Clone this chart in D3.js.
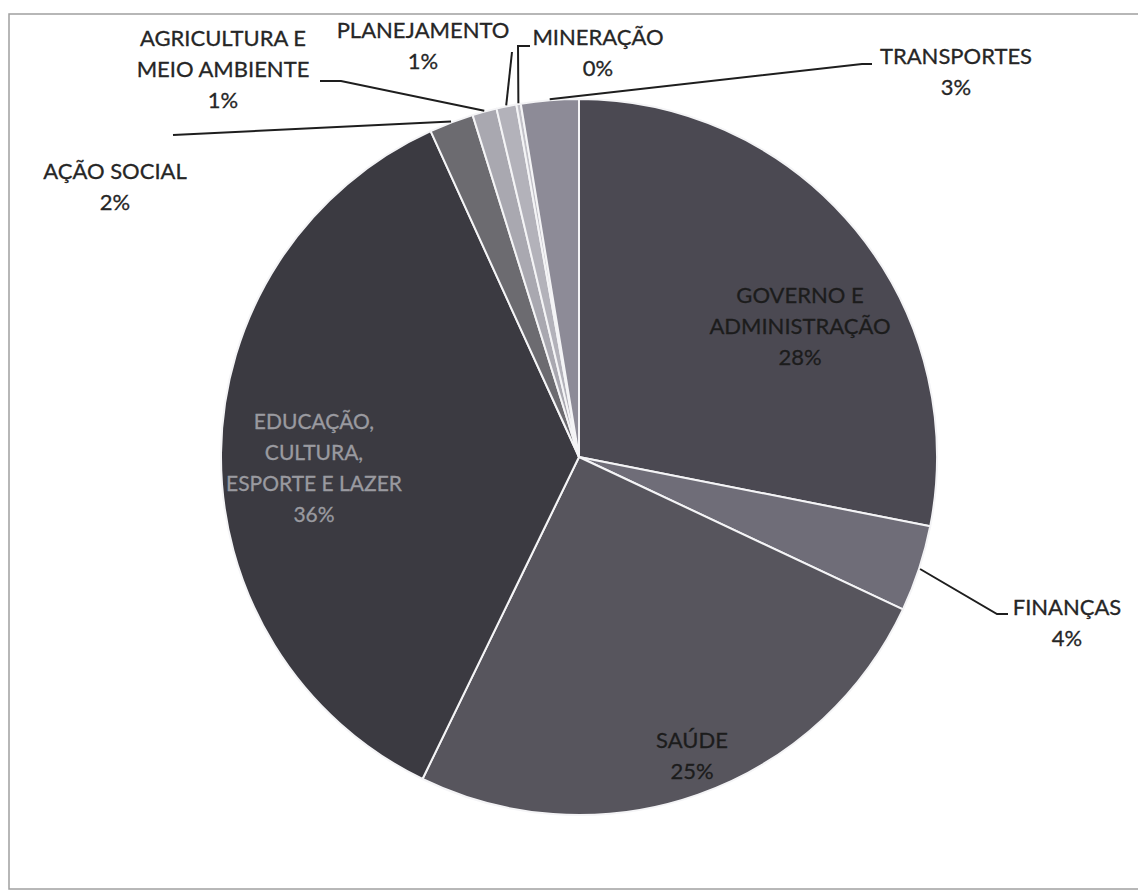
<!DOCTYPE html>
<html>
<head>
<meta charset="utf-8">
<script src="https://cdn.jsdelivr.net/npm/d3@7"></script>
<style>
    body { margin: 0; background: #fff; }
    text { font-family: Lato, "Open Sans", sans-serif; font-size: 22px; }
</style>
</head>
<body>
<script>
// slices clockwise from 12 o'clock
const categories = [
    "GOVERNO E ADMINISTRAÇÃO",
    "FINANÇAS",
    "SAÚDE",
    "EDUCAÇÃO, CULTURA, ESPORTE E LAZER",
    "AÇÃO SOCIAL",
    "AGRICULTURA E MEIO AMBIENTE",
    "PLANEJAMENTO",
    "MINERAÇÃO",
    "TRANSPORTES",
];
const shares = [28.1, 3.9, 25.2, 36.0, 2.0, 1.1, 0.9, 0.2, 2.6];
const labelLines = [
    ["GOVERNO E", "ADMINISTRAÇÃO"],
    ["FINANÇAS"],
    ["SAÚDE"],
    ["EDUCAÇÃO,", "CULTURA,", "ESPORTE E LAZER"],
    ["AÇÃO SOCIAL"],
    ["AGRICULTURA E", "MEIO AMBIENTE"],
    ["PLANEJAMENTO"],
    ["MINERAÇÃO"],
    ["TRANSPORTES"],
];

const width = 1138;
const height = 892;
const cx = 579, cy = 457, radius = 358;
const lineH = 31;

const fills = ["#4b4952", "#6f6d78", "#57555d", "#3b3a41", "#6c6b70",
               "#a9a8b0", "#b3b2ba", "#c2c1c8", "#8d8b97"];
const textFills = ["#1c1c1c", "#262626", "#1c1c1c", "#9a9aa0", "#262626",
                   "#262626", "#262626", "#262626", "#262626"];

// label block placement (x = centre, y = centre of first line) and leader elbows
const layout = [
    { x: 800, y: 295 },
    { x: 1067, y: 607, leader: [[997, 614], [1008, 614]] },
    { x: 692, y: 740 },
    { x: 314, y: 421, size: 21 },
    { x: 115, y: 171, leader: [[173, 135]] },
    { x: 223, y: 38, leader: [[341, 81], [320, 81]] },
    { x: 423, y: 30, leader: [[512, 52]] },
    { x: 598, y: 37, leader: [[518, 46], [530, 46]] },
    { x: 956, y: 56, leader: [[862, 64], [872, 64]] },
];

const svg = d3
    .select("body")
    .append("svg")
    .attr("width", width)
    .attr("height", height);

// chart frame
svg.append("rect")
    .attr("x", 9)
    .attr("y", 14)
    .attr("width", width + 10)
    .attr("height", 875)
    .attr("fill", "none")
    .attr("stroke", "#a0a0a0")
    .attr("stroke-width", 1.5);

const pie = d3.pie().sort(null).value((d) => d)(shares);
const total = d3.sum(shares);

const arc = d3.arc().innerRadius(0).outerRadius(radius);
const edgeArc = d3.arc().innerRadius(radius + 1).outerRadius(radius + 1);

const g = svg.append("g").attr("transform", `translate(${cx},${cy})`);

g.selectAll(".slice")
    .data(pie)
    .enter()
    .append("path")
    .attr("class", "slice")
    .attr("d", arc)
    .attr("fill", (d, i) => fills[i])
    .attr("stroke", "#f4f4f6")
    .attr("stroke-width", 2)
    .attr("stroke-linejoin", "round");

// leader lines
const line = d3.line();
pie.forEach((d, i) => {
    const lay = layout[i];
    if (!lay.leader) return;
    const [ex, ey] = edgeArc.centroid(d);
    const pts = [[cx + ex, cy + ey]].concat(lay.leader);
    svg.append("path")
        .attr("d", line(pts))
        .attr("fill", "none")
        .attr("stroke", "#1e1e1e")
        .attr("stroke-width", 2);
});

// labels
pie.forEach((d, i) => {
    const lay = layout[i];
    const pct = Math.round((d.value / total) * 100) + "%";
    const lines = labelLines[i].concat([pct]);
    const t = svg.append("text")
        .attr("text-anchor", "middle")
        .attr("fill", textFills[i])
        .attr("stroke", textFills[i])
        .attr("stroke-width", 0.3);
    if (lay.size) t.style("font-size", lay.size + "px");
    lines.forEach((s, k) => {
        t.append("tspan")
            .attr("x", lay.x)
            .attr("y", lay.y + k * lineH + 8)
            .text(s);
    });
});
</script>
</body>
</html>
